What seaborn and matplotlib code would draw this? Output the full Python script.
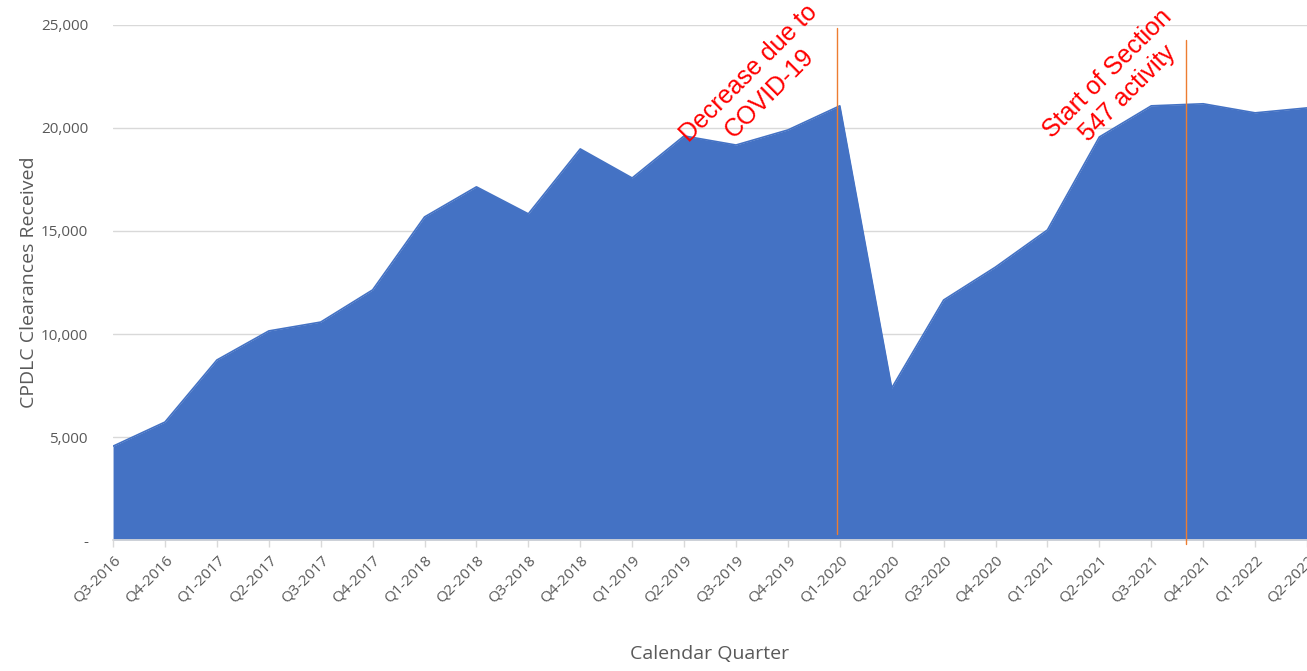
import matplotlib.pyplot as plt
import matplotlib.ticker as mticker
import seaborn as sns
import pandas as pd

quarters = ['Q3-2016', 'Q4-2016', 'Q1-2017', 'Q2-2017', 'Q3-2017', 'Q4-2017',
            'Q1-2018', 'Q2-2018', 'Q3-2018', 'Q4-2018', 'Q1-2019', 'Q2-2019',
            'Q3-2019', 'Q4-2019', 'Q1-2020', 'Q2-2020', 'Q3-2020', 'Q4-2020',
            'Q1-2021', 'Q2-2021', 'Q3-2021', 'Q4-2021', 'Q1-2022', 'Q2-2022']
clearances = [4560, 5730, 8740, 10150, 10580, 12140,
              15680, 17140, 15830, 18980, 17570, 19610,
              19170, 19900, 21070, 7380, 11650, 13250,
              15050, 19560, 21070, 21170, 20730, 20970]

# event markers (x position in quarter index units)
covid_x = 13.94
s547_x = 20.67

sns.set_theme(style='white')
plt.rcParams['font.family'] = ['Open Sans', 'DejaVu Sans']

df = pd.DataFrame({'idx': range(len(quarters)), 'quarter': quarters, 'value': clearances})

fig = plt.figure(figsize=(13.07, 6.71), dpi=100)
ax = fig.add_axes([0.0865, 0.195, 0.9135, 0.768])

blue = '#4472C4'
sns.lineplot(data=df, x='idx', y='value', ax=ax, color=blue, linewidth=1.2, zorder=2)
ax.fill_between(df['idx'], df['value'], color=blue, linewidth=0, zorder=2)

ax.set_xlim(0, len(quarters) - 1)
ax.set_ylim(0, 25000)
ax.set_yticks(range(0, 25001, 5000))
ax.yaxis.set_major_formatter(mticker.FuncFormatter(lambda v, p: '-' if v == 0 else f'{int(v):,}'))
ax.set_xticks(df['idx'])
ax.set_xticklabels(quarters, rotation=45, ha='right', rotation_mode='anchor')

ax.grid(axis='y', color='#d9d9d9', linewidth=1)
ax.set_axisbelow(True)
for side in ['top', 'right', 'left']:
    ax.spines[side].set_visible(False)
ax.spines['bottom'].set_color('#d9d9d9')
ax.tick_params(axis='x', colors='#595959', labelsize=11, length=5, width=1, direction='out', bottom=True, pad=4)
ax.tick_params(axis='x', color='#d9d9d9')
ax.tick_params(axis='y', colors='#595959', labelsize=11, length=0, pad=18)

ax.set_xlabel('Calendar Quarter', fontsize=14, color='#595959', labelpad=28)
ax.set_ylabel('CPDLC Clearances Received', fontsize=14, color='#595959', labelpad=2)

# event lines
ax.plot([covid_x, covid_x], [300, 24850], color='#ED7D31', linewidth=1, zorder=3)
ax.plot([s547_x, s547_x], [-200, 24250], color='#ED7D31', linewidth=1, zorder=3, clip_on=False)

ax.text(12.45, 22150, 'Decrease due to\nCOVID-19', rotation=45, color='red', fontsize=18,
        ha='center', va='center', family=['Liberation Sans', 'DejaVu Sans'], linespacing=1.25)
ax.text(19.35, 22150, 'Start of Section\n547 activity', rotation=45, color='red', fontsize=18,
        ha='center', va='center', family=['Liberation Sans', 'DejaVu Sans'], linespacing=1.25)

fig.savefig('out.png', dpi=100)
